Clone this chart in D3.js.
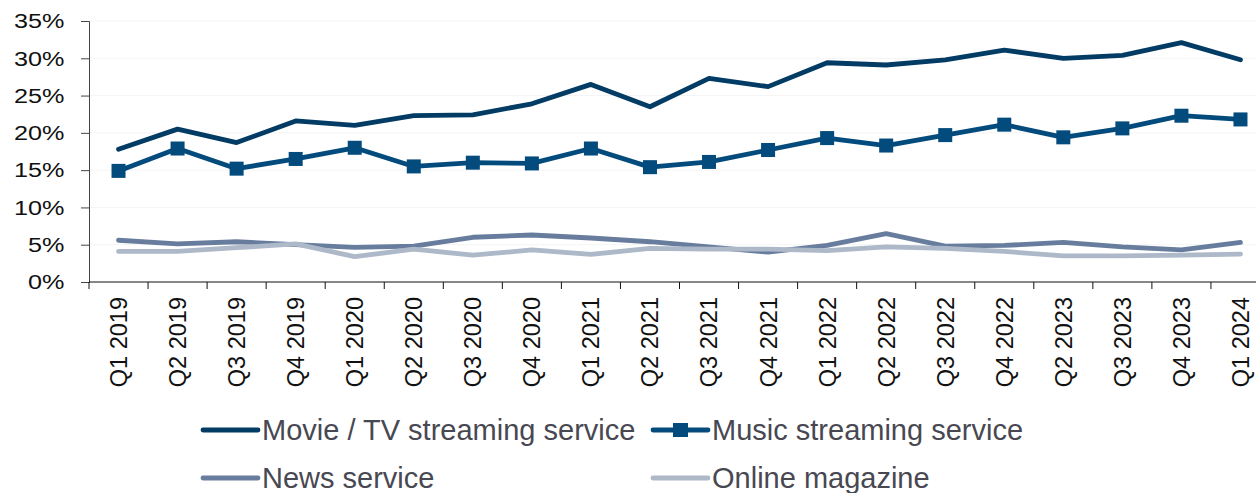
<!DOCTYPE html>
<html>
<head>
<meta charset="utf-8">
<script src="https://cdn.jsdelivr.net/npm/d3@7/dist/d3.min.js"></script>
<style>
  body { margin: 0; background: #fff; }
  svg { display: block; font-family: "Liberation Sans", Arial, sans-serif; }
</style>
</head>
<body>
<svg id="chart" width="1256" height="493"></svg>
<script>
// Quarters shown on the x axis (Q1 2023 is not in the source)
const quarters = ["Q1 2019", "Q2 2019", "Q3 2019", "Q4 2019", "Q1 2020", "Q2 2020", "Q3 2020", "Q4 2020",
    "Q1 2021", "Q2 2021", "Q3 2021", "Q4 2021", "Q1 2022", "Q2 2022", "Q3 2022", "Q4 2022",
    "Q2 2023", "Q3 2023", "Q4 2023", "Q1 2024"];

const movieTv = [17.8, 20.5, 18.7, 21.6, 21.0, 22.3, 22.4, 23.9, 26.5, 23.5, 27.3, 26.2, 29.4, 29.1, 29.8, 31.1, 30.0, 30.4, 32.1, 29.8];
const music = [14.9, 17.9, 15.2, 16.5, 18.0, 15.5, 16.0, 15.9, 17.9, 15.4, 16.1, 17.7, 19.3, 18.3, 19.7, 21.1, 19.4, 20.6, 22.3, 21.8];
const news = [5.6, 5.1, 5.4, 5.0, 4.65, 4.8, 6.0, 6.3, 5.9, 5.4, 4.7, 4.0, 4.9, 6.5, 4.8, 4.9, 5.3, 4.7, 4.3, 5.3];
const onlineMag = [4.1, 4.1, 4.6, 5.1, 3.4, 4.4, 3.6, 4.3, 3.7, 4.5, 4.4, 4.4, 4.2, 4.7, 4.5, 4.1, 3.5, 3.5, 3.6, 3.75];

const yTicks = [0, 5, 10, 15, 20, 25, 30, 35];

const seriesList = [
    { name: "Movie / TV streaming service", values: movieTv, color: "#023b64", marker: false },
    { name: "Music streaming service", values: music, color: "#034b7d", marker: true },
    { name: "News service", values: news, color: "#687d9e", marker: false },
    { name: "Online magazine", values: onlineMag, color: "#adb8c9", marker: false }
];

const svg = d3.select("#chart");
const plotLeft = 89, plotTop = 21, plotBottom = 282;
const bandW = 59.05;

const x = d3.scaleBand()
    .domain(quarters)
    .range([plotLeft, plotLeft + bandW * quarters.length]);

const y = d3.scaleLinear()
    .domain([0, 35])
    .range([plotBottom, plotTop]);

// faint gridlines
svg.append("g")
    .selectAll("line")
    .data(yTicks.slice(1))
    .enter().append("line")
    .attr("x1", plotLeft).attr("x2", 1256)
    .attr("y1", d => y(d)).attr("y2", d => y(d))
    .attr("stroke", "#f4f4f4")
    .attr("stroke-width", 1);

// y axis
const yAxis = svg.append("g")
    .attr("transform", `translate(${plotLeft},0)`)
    .call(d3.axisLeft(y).tickValues(yTicks).tickSize(8).tickPadding(16).tickFormat(d => d + "%"));
yAxis.select(".domain").attr("stroke", "#444");
yAxis.selectAll(".tick line").attr("stroke", "#444");
yAxis.selectAll(".tick text")
    .attr("font-size", 21)
    .attr("fill", "#111")
    .attr("font-family", "Liberation Sans, Arial, sans-serif")
    .attr("transform", "scale(1.2,1)")
    .attr("x", -24 / 1.2 - 0.5);

// x axis, ticks on the band edges
const xAxisG = svg.append("g").attr("transform", `translate(0,${plotBottom})`);
xAxisG.append("line")
    .attr("x1", plotLeft).attr("x2", 1256)
    .attr("stroke", "#111").attr("stroke-width", 1.2);
xAxisG.selectAll(".xtick")
    .data(quarters)
    .enter().append("line")
    .attr("class", "xtick")
    .attr("x1", d => x(d)).attr("x2", d => x(d))
    .attr("y1", 0).attr("y2", 7)
    .attr("stroke", "#111");
xAxisG.selectAll(".xlabel")
    .data(quarters)
    .enter().append("text")
    .attr("class", "xlabel")
    .attr("transform", d => `translate(${x(d) + x.bandwidth() / 2},15) rotate(-90)`)
    .attr("text-anchor", "end")
    .attr("dy", "0.36em")
    .attr("font-size", 23.5)
    .attr("fill", "#111")
    .text(d => d);

// series lines
const line = d3.line()
    .x((d, i) => x(quarters[i]) + x.bandwidth() / 2)
    .y(d => y(d));

const drawOrder = [seriesList[2], seriesList[3], seriesList[1], seriesList[0]];
drawOrder.forEach(s => {
    svg.append("path")
        .datum(s.values)
        .attr("fill", "none")
        .attr("stroke", s.color)
        .attr("stroke-width", 4.8)
        .attr("stroke-linecap", "round")
        .attr("stroke-linejoin", "round")
        .attr("d", line);
    if (s.marker) {
        svg.append("g")
            .selectAll("rect")
            .data(s.values)
            .enter().append("rect")
            .attr("x", (d, i) => x(quarters[i]) + x.bandwidth() / 2 - 7)
            .attr("y", d => y(d) - 7)
            .attr("width", 14).attr("height", 14)
            .attr("fill", s.color);
    }
});

// legend, 2 x 2
const legendPos = [[203, 430], [653, 430], [203, 478], [653, 478]];
seriesList.forEach((s, i) => {
    const [lx, ly] = legendPos[i];
    const g = svg.append("g").attr("transform", `translate(${lx},${ly})`);
    g.append("line")
        .attr("x1", 0).attr("x2", 55)
        .attr("stroke", s.color)
        .attr("stroke-width", 4.8)
        .attr("stroke-linecap", "round");
    if (s.marker) {
        g.append("rect")
            .attr("x", 20).attr("y", -7)
            .attr("width", 15).attr("height", 14)
            .attr("fill", s.color);
    }
    g.append("text")
        .attr("x", 59)
        .attr("dy", "0.36em")
        .attr("font-size", 29)
        .attr("fill", "#484852")
        .text(s.name);
});
</script>
</body>
</html>
